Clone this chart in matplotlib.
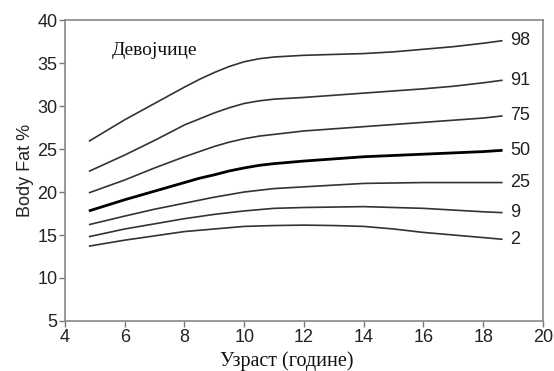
import matplotlib
matplotlib.use('Agg')
import matplotlib.pyplot as plt

# Starost (godine) i percentilne krive
uzrast = [4.8, 6, 7, 8, 8.5, 9, 9.5, 10, 10.5, 11, 12, 13, 14, 15, 16, 17, 18, 18.65]
percentili = ['98', '91', '75', '50', '25', '9', '2']
p98 = [25.9, 28.4, 30.3, 32.2, 33.1, 33.9, 34.6, 35.15, 35.5, 35.7, 35.9, 36.0, 36.1, 36.3, 36.6, 36.9, 37.3, 37.6]
p91 = [22.4, 24.3, 26.0, 27.8, 28.5, 29.2, 29.8, 30.3, 30.6, 30.8, 31.0, 31.25, 31.5, 31.75, 32.0, 32.3, 32.7, 33.0]
p75 = [19.9, 21.4, 22.8, 24.1, 24.7, 25.3, 25.8, 26.2, 26.5, 26.7, 27.1, 27.35, 27.6, 27.85, 28.1, 28.35, 28.6, 28.85]
p50 = [17.8, 19.1, 20.1, 21.1, 21.6, 22.0, 22.45, 22.8, 23.1, 23.3, 23.6, 23.85, 24.1, 24.25, 24.4, 24.55, 24.7, 24.85]
p25 = [16.2, 17.2, 18.0, 18.7, 19.05, 19.4, 19.7, 20.0, 20.2, 20.4, 20.6, 20.8, 21.0, 21.05, 21.1, 21.1, 21.1, 21.1]
p9 = [14.8, 15.7, 16.3, 16.9, 17.15, 17.4, 17.6, 17.8, 17.95, 18.1, 18.2, 18.25, 18.3, 18.2, 18.1, 17.9, 17.7, 17.6]
p2 = [13.7, 14.4, 14.9, 15.4, 15.55, 15.7, 15.85, 16.0, 16.05, 16.1, 16.15, 16.1, 16.0, 15.7, 15.3, 15.0, 14.7, 14.5]
krive = [p98, p91, p75, p50, p25, p9, p2]

plt.rcParams['font.family'] = ['Liberation Sans', 'DejaVu Sans']

fig = plt.figure(figsize=(5.54, 3.71), dpi=100)
ax = fig.add_axes([0.1173, 0.1348, 0.8627, 0.8112])

for naziv, vrednosti in zip(percentili, krive):
    if naziv == '50':
        ax.plot(uzrast, vrednosti, color='black', lw=2.0, solid_capstyle='butt')
    else:
        ax.plot(uzrast, vrednosti, color='#333333', lw=1.2, solid_capstyle='butt')
    ax.text(uzrast[-1] + 0.25, vrednosti[-1], naziv, fontsize=13,
            color='#222222', va='center', ha='left')

ax.set_xlim(4, 20)
ax.set_ylim(5, 40)
ax.set_xticks(range(4, 21, 2))
ax.set_yticks(range(5, 41, 5))
ax.tick_params(direction='out', length=4, width=1, color='#777777',
               labelsize=13, labelcolor='#222222', pad=1.5)
for s in ax.spines.values():
    s.set_color('#888888')
    s.set_linewidth(1.2)

ax.set_ylabel('Body Fat %', fontsize=13, color='#222222', labelpad=2)
ax.set_xlabel('Узраст (године)', fontsize=14.5, family='Liberation Serif',
              color='#111111')
ax.xaxis.set_label_coords(0.464, -0.1)

ax.text(5.56, 36.4, 'Девојчице', fontsize=14, family='Liberation Serif',
        va='center', ha='left', color='#111111')

fig.savefig('out.png', dpi=100)
